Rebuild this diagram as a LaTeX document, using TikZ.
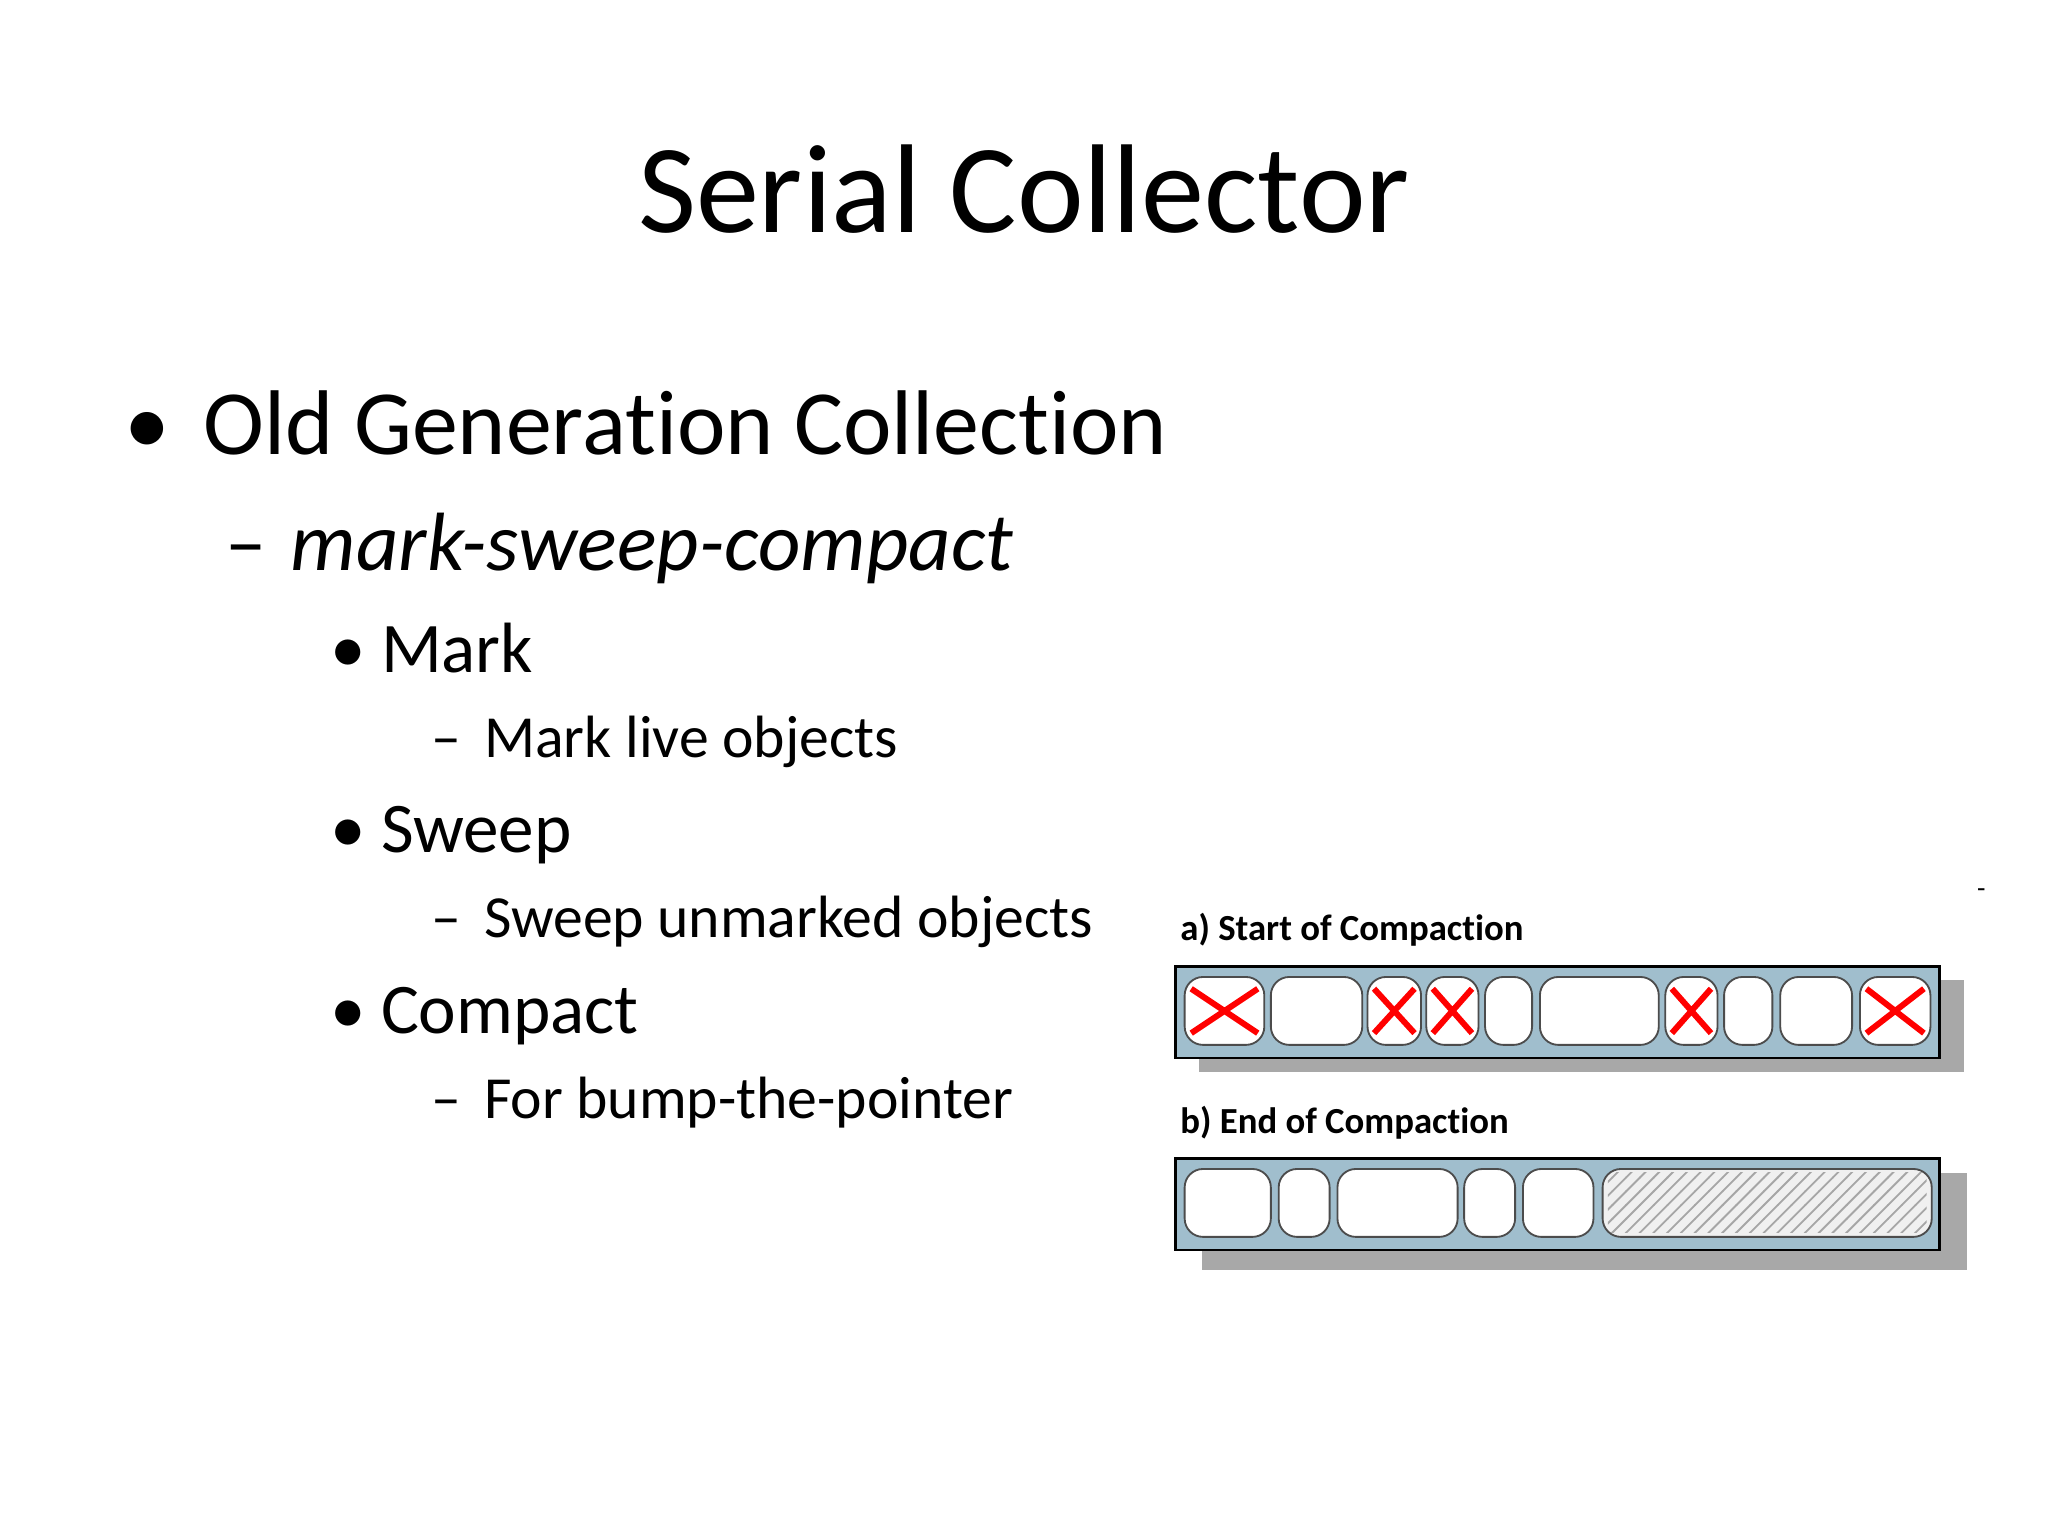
\documentclass[tikz,border=0pt]{standalone}
\usepackage{fontspec}
\setmainfont[Ligatures=NoCommon]{Carlito}
\usetikzlibrary{patterns}
\definecolor{barblue}{RGB}{160,190,205}
\definecolor{shad}{RGB}{168,168,168}
\begin{document}
\begin{tikzpicture}[x=0.01cm,y=-0.01cm,
  t/.style={anchor=base west,inner sep=0},
  lone/.style={t,font=\fontsize{20}{20}\selectfont},
  ltwo/.style={t,font=\fontsize{18}{18}\selectfont},
  lthree/.style={t,font=\fontsize{15.5}{15.5}\selectfont},
  lfour/.style={t,font=\fontsize{13}{13}\selectfont},
  diagcap/.style={t,font=\fontsize{8}{8}\selectfont\bfseries},
  bar/.style={draw=black,line width=0.6pt,fill=barblue},
  shadowbox/.style={fill=shad},
  cell/.style={draw=black!70,fill=white,rounded corners=4,line width=0.4pt},
  cross/.style={red,line width=1.3pt}]
\useasboundingbox (0,0) rectangle (1568,1176);
\node[anchor=base,inner sep=0,font=\fontsize{27.5}{27.5}\selectfont] (title) at (784,178) {Serial Collector};
\node[lone] (b1) at (95,348) {•};
\node[lone] (t1) at (155,348) {Old Generation Collection};
\node[ltwo] (d1) at (172,437) {–};
\node[ltwo,font=\fontsize{18}{18}\selectfont\itshape] (t2) at (222,437) {mark-sweep-compact};
\foreach \y/\a/\b [count=\i] in {515/Mark/Mark live objects,653/Sweep/Sweep unmarked objects,791/Compact/For bump-the-pointer}{
  \node[lthree] (bb\i) at (252,\y) {•};
  \node[lthree] (tt\i) at (291,\y) {\a};
  \node[lfour] (dd\i) at (330,\y+65) {–};
  \node[lfour] (ss\i) at (370,\y+65) {\b};
}
\node[t,font=\fontsize{6}{6}\selectfont] (dash) at (1513,687) {-};
% diagram a
\node[diagcap] (ca) at (903,720) {a) Start of Compaction};
\fill[shadowbox] (918,750) rectangle (1504,821);
\draw[bar] (900,740) rectangle (1485,810);
\foreach \l/\r/\x [count=\i] in {907/968/1,973/1043/0,1047/1088/1,1092/1132/1,1137/1173/0,1179/1270/0,1275/1315/1,1320/1357/0,1363/1418/0,1424/1478/1}{
  \draw[cell] (\l,748) rectangle (\r,800);
  \ifnum\x=1
   \draw[cross] (\l+5,757) -- (\r-5,791) (\l+5,791) -- (\r-5,757);
  \fi
}
% diagram b
\node[diagcap] (cb) at (903,868) {b) End of Compaction};
\fill[shadowbox] (920,898) rectangle (1506,972);
\draw[bar] (900,887) rectangle (1485,957);
\foreach \l/\r in {907/973,979/1018,1024/1116,1121/1160,1166/1220}{
  \draw[cell] (\l,895) rectangle (\r,947);
}
\draw[cell,fill=gray!12] (1227,895) rectangle (1479,947);
\fill[pattern=north east lines,pattern color=gray!70] (1231,898) rectangle (1475,944);
\end{tikzpicture}
\end{document}
